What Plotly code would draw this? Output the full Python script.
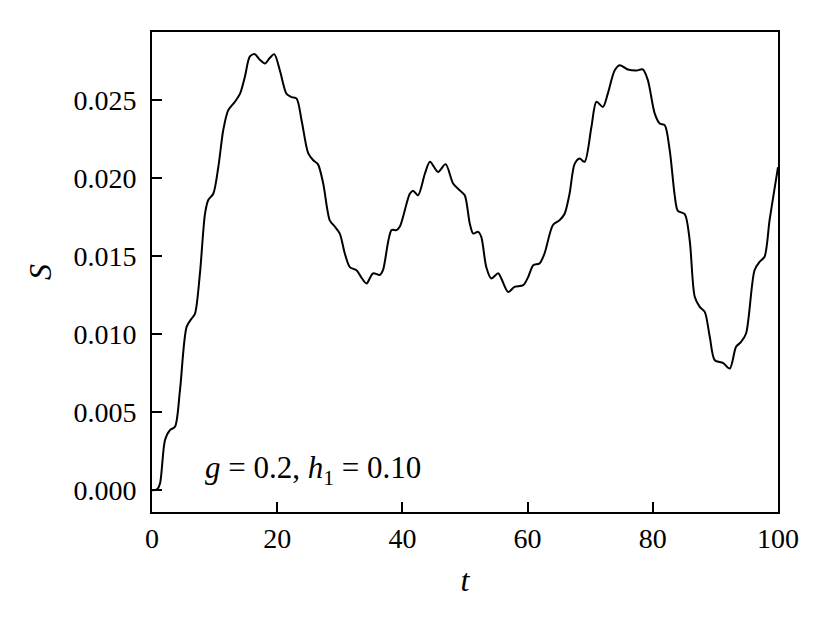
"""Time series of S for g = 0.2, h1 = 0.10."""

import plotly.graph_objects as go

# values (S in units of 1e-3)
t_values = [
    0, 0.8, 1.28, 2.07, 2.87, 3.67, 4.47, 5.53, 6.33, 6.86, 7.66, 8.46, 8.99,
    9.79, 10.59, 11.39, 12.18, 13.25, 14.05, 14.84, 15.64, 16.44, 17.2, 18.04,
    18.8, 19.53, 20.43, 21.5, 22.3, 23.1, 23.9, 24.95, 25.75, 26.5, 27.35,
    28.4, 29.2, 30.0, 30.8, 31.6, 32.67, 33.5, 34.27, 35.3, 36.4, 36.9, 38.26,
    39.05, 39.6, 41.18, 41.7, 42.5, 43.6, 44.4, 45.7, 46.9, 48.1, 49.2, 49.96,
    50.76, 51.3, 52.1, 52.6, 53.4, 54.2, 55.3, 55.8, 56.9, 57.9, 59.3, 60.1,
    60.9, 61.9, 62.7, 64.05, 65.1, 65.9, 66.7, 67.5, 68.3, 69.1, 70.2, 71.0,
    72.04, 72.8, 73.9, 74.7, 76.0, 77.4, 78.4, 79.2, 80.3, 81.1, 81.9, 82.7,
    83.5, 84.0, 85.1, 85.9, 86.7, 87.5, 88.3, 89.1, 89.9, 91.2, 92.3, 93.3,
    94.1, 94.9, 96.25, 97.05, 97.85, 98.65, 99.4, 100,
]
s_milli = [
    0, 0.05, 0.43, 3.2, 3.85, 4.06, 6.41, 10.47, 11.0, 11.3, 13.9, 17.7, 18.6,
    19.0, 20.7, 23.1, 24.36, 24.9, 25.4, 26.5, 27.8, 27.95, 27.6, 27.35,
    27.7, 27.95, 26.9, 25.4, 25.2, 25.1, 23.7, 21.6, 21.15, 20.9, 19.66,
    17.3, 16.9, 16.45, 15.17, 14.3, 14.1, 13.6, 13.25, 13.9, 13.8, 14.1, 16.67,
    16.67, 16.9, 19.0, 19.2, 18.9, 20.3, 21.05, 20.4, 20.9, 19.66, 19.2, 18.9,
    17.1, 16.45, 16.56, 16.24, 14.3, 13.57, 13.9, 13.57, 12.7, 13.03, 13.14, 13.67,
    14.42, 14.53, 15.17, 17.0, 17.3, 17.7, 19.0, 20.9, 21.26, 21.05, 23.3, 24.9,
    24.57, 25.4, 26.9, 27.24, 26.97, 26.9, 26.97, 26.3, 24.15, 23.5, 23.4, 21.8,
    18.9, 17.9, 17.7, 16.0, 12.4, 11.75, 11.43, 9.83, 8.33, 8.16, 7.8, 9.19,
    9.5, 10.04, 14.1, 14.63, 14.96, 17.3, 19.2, 20.7,
]
s_values = [v * 1e-3 for v in s_milli]

x_ticks = [0, 20, 40, 60, 80, 100]
y_ticks = [0.000, 0.005, 0.010, 0.015, 0.020, 0.025]

FONT = "Liberation Serif"

fig = go.Figure()
fig.add_trace(
    go.Scatter(
        x=t_values,
        y=s_values,
        mode="lines",
        line={"color": "black", "width": 2, "shape": "spline", "smoothing": 0.8},
        showlegend=False,
    )
)

axis_common = dict(
    showline=True,
    linecolor="black",
    linewidth=2,
    mirror=True,
    ticks="inside",
    ticklen=10,
    tickwidth=2,
    tickcolor="black",
    showgrid=False,
    zeroline=False,
    tickfont={"family": FONT, "size": 28, "color": "black"},
)

fig.update_xaxes(
    range=[0, 100],
    tickvals=x_ticks,
    title={"text": "<i>t</i>", "font": {"family": FONT, "size": 32}, "standoff": 16},
    **axis_common,
)
fig.update_yaxes(
    range=[-0.0014, 0.02937],
    tickvals=y_ticks,
    tickformat=".3f",
    ticklabelstandoff=8,
    title={"text": "<i>S</i>", "font": {"family": FONT, "size": 32}, "standoff": 12},
    **axis_common,
)

fig.add_annotation(
    text="<i>g</i> = 0.2, <i>h</i><sub>1</sub> = 0.10",
    xref="paper",
    yref="paper",
    x=0.0815,
    y=0.0875,
    xanchor="left",
    yanchor="middle",
    showarrow=False,
    font={"family": FONT, "size": 31, "color": "black"},
)

# the page body adds an 8px offset, so margins are shifted to compensate
fig.update_layout(
    width=832,
    height=624,
    margin={"l": 144, "r": 62, "t": 24, "b": 120},
    plot_bgcolor="white",
    paper_bgcolor="white",
    font={"family": FONT, "color": "black"},
)

fig.write_html("out.html")
